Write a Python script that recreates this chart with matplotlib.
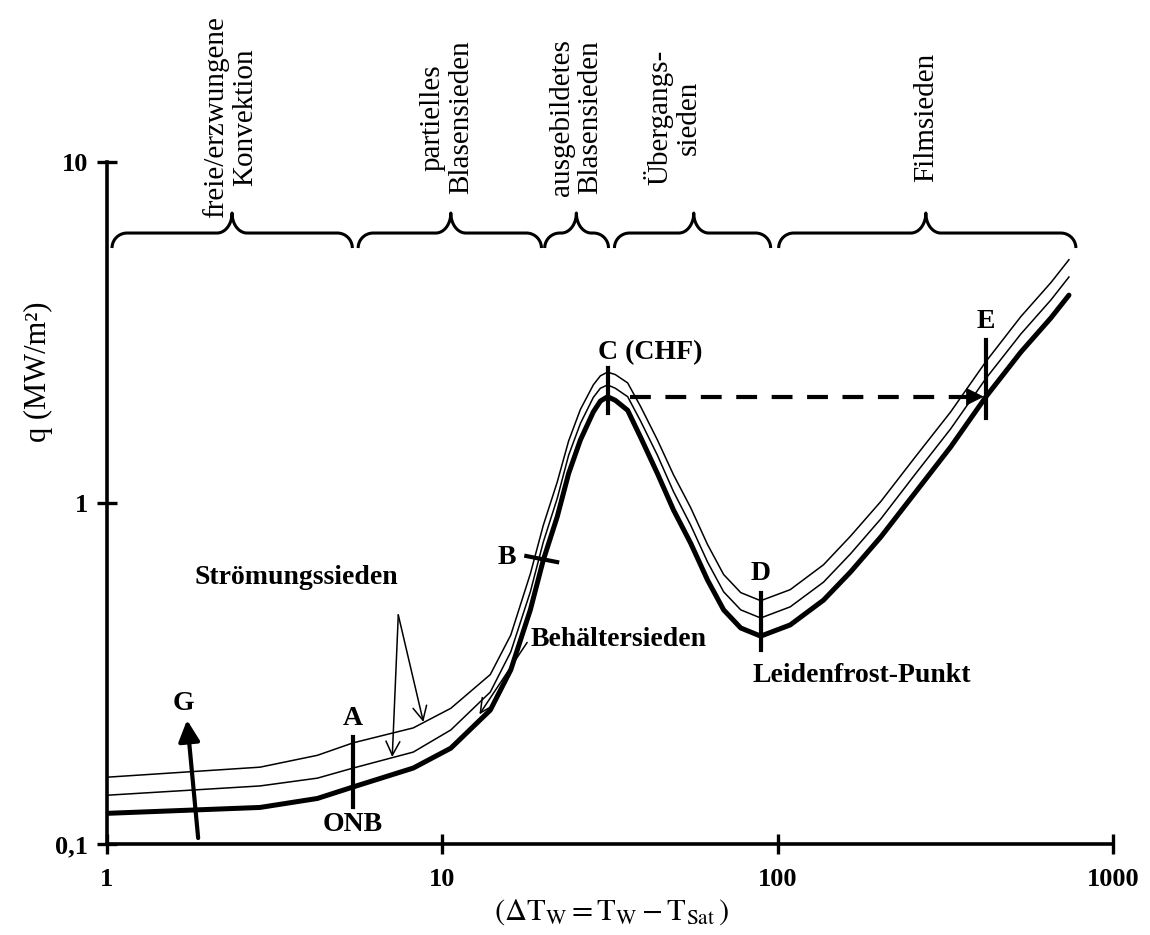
import matplotlib
matplotlib.use("Agg")
import matplotlib.pyplot as plt
import numpy as np
from matplotlib.ticker import NullLocator

plt.rcParams['font.family'] = ['Liberation Serif', 'DejaVu Serif']
plt.rcParams['mathtext.fontset'] = 'stix'

# boiling curve (x = wall superheat in K, q in MW/m2)
dT = [1.0, 2.86, 4.24, 5.42, 8.19, 10.6, 13.9, 16.0, 18.3, 20.0, 22.0, 23.8, 25.8,
      28.2, 29.6, 31.1, 32.8, 35.7, 39.0, 43.8, 48.9, 55.0, 61.8, 69.0, 77.6, 89.0,
      109, 137, 165, 203, 258, 328, 418, 531, 653, 739]
q_pool = [0.123, 0.128, 0.136, 0.147, 0.167, 0.191, 0.247, 0.324, 0.486, 0.680,
          0.910, 1.22, 1.53, 1.85, 1.99, 2.05, 2.00, 1.87, 1.56, 1.22, 0.954, 0.763,
          0.594, 0.486, 0.430, 0.407, 0.439, 0.519, 0.628, 0.795, 1.077, 1.46, 2.05,
          2.77, 3.49, 4.07]
q_flow1 = [0.139, 0.148, 0.156, 0.167, 0.186, 0.216, 0.279, 0.366, 0.549, 0.768,
           1.03, 1.38, 1.71, 2.04, 2.17, 2.22, 2.17, 2.05, 1.74, 1.38, 1.08, 0.862,
           0.671, 0.549, 0.486, 0.460, 0.496, 0.586, 0.710, 0.898, 1.22, 1.65, 2.32,
           3.13, 3.94, 4.60]
q_flow2 = [0.157, 0.168, 0.182, 0.198, 0.219, 0.250, 0.314, 0.410, 0.620, 0.860,
           1.15, 1.52, 1.88, 2.22, 2.36, 2.42, 2.38, 2.25, 1.92, 1.53, 1.21, 0.970,
           0.755, 0.617, 0.546, 0.517, 0.557, 0.659, 0.800, 1.01, 1.37, 1.85, 2.60,
           3.52, 4.43, 5.17]

# regime braces: (left end, cusp, right end) in K
brace_left = [1.035, 5.61, 20.2, 32.6, 100.7]
brace_cusp = [2.36, 10.6, 25.1, 56.2, 276.6]
brace_right = [5.39, 19.75, 31.3, 95.3, 775]
brace_q = 6.19
regime_names = ["freie/erzwungene\nKonvektion", "partielles\nBlasensieden",
                "ausgebildetes\nBlasensieden", "Übergangs-\nsieden", "Filmsieden"]
regime_x = [2.33, 10.3, 25.1, 48.6, 276.6]
regime_q = 13.5

# point markers
mark_x = {"A": 5.42, "C": 31.1, "D": 89.0, "E": 418}
mark_q = {"A": (0.1284, 0.2057), "C": (1.84, 2.49), "D": (0.371, 0.545), "E": (1.78, 3.01)}
b_mark = ([17.8, 22.0], [0.699, 0.671])

fig = plt.figure(figsize=(11.5, 9.35), dpi=100)
ax = fig.add_axes([107 / 1150, 91 / 935, 1006 / 1150, 682 / 935])
ax.set_xscale('log')
ax.set_yscale('log')
ax.set_xlim(1, 1000)
ax.set_ylim(0.1, 10)

ax.plot(dT, q_flow2, color='k', lw=1.1)
ax.plot(dT, q_flow1, color='k', lw=1.1)
ax.plot(dT, q_pool, color='k', lw=3.6, solid_joinstyle='round', solid_capstyle='round')

# axes styling
for s in ['top', 'right']:
    ax.spines[s].set_visible(False)
for s in ['left', 'bottom']:
    ax.spines[s].set_linewidth(2.6)
ax.set_xticks([1, 10, 100, 1000])
ax.set_xticklabels(['1', '10', '100', '1000'], fontweight='bold')
ax.set_yticks([0.1, 1, 10])
ax.set_yticklabels(['0,1', '1', '10'], fontweight='bold')
ax.xaxis.set_minor_locator(NullLocator())
ax.yaxis.set_minor_locator(NullLocator())
ax.tick_params(axis='x', direction='inout', length=15, width=2.4, labelsize=19, pad=10)
ax.tick_params(axis='y', direction='inout', length=15, width=2.4, labelsize=19, pad=6)

fig.text(38 / 1150, 1 - 372 / 935, "q (MW/m²)", rotation=90, ha='center', va='center', fontsize=22)
fig.text(612 / 1150, 1 - 912 / 935,
         r'$(\Delta\mathrm{T}_{\mathrm{W}} = \mathrm{T}_{\mathrm{W}} - \mathrm{T}_{\mathrm{Sat}}\,)$',
         ha='center', va='center', fontsize=22)


# curly braces, shaped in pixel-like log units
def brace(x0, xc, x1, yq, ppx=335.0, ppy=341.0, r=15.0, h_end=15.0, h_cusp=20.0):
    lx0, lxc, lx1 = np.log10(x0) * ppx, np.log10(xc) * ppx, np.log10(x1) * ppx
    t = np.linspace(0, np.pi / 2, 20)
    xs, hs = [], []
    xs += list(lx0 + r * (1 - np.cos(t))); hs += list(-h_end + h_end * np.sin(t))
    xs += list(lxc - r + r * np.sin(t)); hs += list(h_cusp * (1 - np.cos(t)))
    xs += list(lxc + r - r * np.sin(t[::-1])); hs += list(h_cusp * (1 - np.cos(t[::-1])))
    xs += list(lx1 - r * (1 - np.cos(t[::-1]))); hs += list(-h_end + h_end * np.sin(t[::-1]))
    xs = 10 ** (np.array(xs) / ppx)
    ys = 10 ** (np.log10(yq) + np.array(hs) / ppy)
    ax.plot(xs, ys, color='k', lw=2.2, solid_capstyle='butt', clip_on=False)


for x0, xc, x1 in zip(brace_left, brace_cusp, brace_right):
    brace(x0, xc, x1, brace_q)
for xt, name in zip(regime_x, regime_names):
    ax.text(xt, regime_q, name, rotation=90, ha='center', va='center',
            multialignment='center', fontsize=21, linespacing=1.12, clip_on=False)

# marker lines
for k in mark_x:
    ax.plot([mark_x[k], mark_x[k]], mark_q[k], color='k', lw=3)
ax.plot(b_mark[0], b_mark[1], color='k', lw=3)

bold = dict(fontweight='bold', fontsize=20, ha='center', va='center')
ax.text(5.42, 0.234, "A", **bold)
ax.text(5.42, 0.1137, "ONB", **bold)
ax.text(15.6, 0.694, "B", **bold)
ax.text(41.8, 2.77, "C (CHF)", **bold)
ax.text(89.0, 0.623, "D", **bold)
ax.text(418, 3.40, "E", **bold)
ax.text(1.686, 0.259, "G", **bold)
ax.text(84.2, 0.313, "Leidenfrost-Punkt", fontweight='bold', fontsize=20, ha='left', va='center')
ax.text(3.67, 0.603, "Strömungssieden", fontweight='bold', fontsize=20, ha='center', va='center')
ax.text(18.3, 0.397, "Behältersieden", fontweight='bold', fontsize=20, ha='left', va='center')

# arrows
ax.annotate("", xy=(1.733, 0.231), xytext=(1.87, 0.1041),
            arrowprops=dict(arrowstyle='-|>', color='k', lw=3, mutation_scale=32,
                            shrinkA=0, shrinkB=0))
thin = dict(arrowstyle='->', color='k', lw=1.1, mutation_scale=25, shrinkA=0, shrinkB=0)
ax.annotate("", xy=(7.09, 0.180), xytext=(7.39, 0.4696), arrowprops=thin)
ax.annotate("", xy=(8.78, 0.228), xytext=(7.39, 0.4696), arrowprops=thin)
ax.annotate("", xy=(12.9, 0.240), xytext=(17.9, 0.390), arrowprops=thin)

ax.plot([36.3, 385], [2.05, 2.05], color='k', lw=3, dashes=(5, 3.5))
ax.annotate("", xy=(412, 2.05), xytext=(370, 2.05),
            arrowprops=dict(arrowstyle='-|>', color='k', lw=0.5, mutation_scale=30,
                            shrinkA=0, shrinkB=0))

fig.savefig("out.png", dpi=100)
